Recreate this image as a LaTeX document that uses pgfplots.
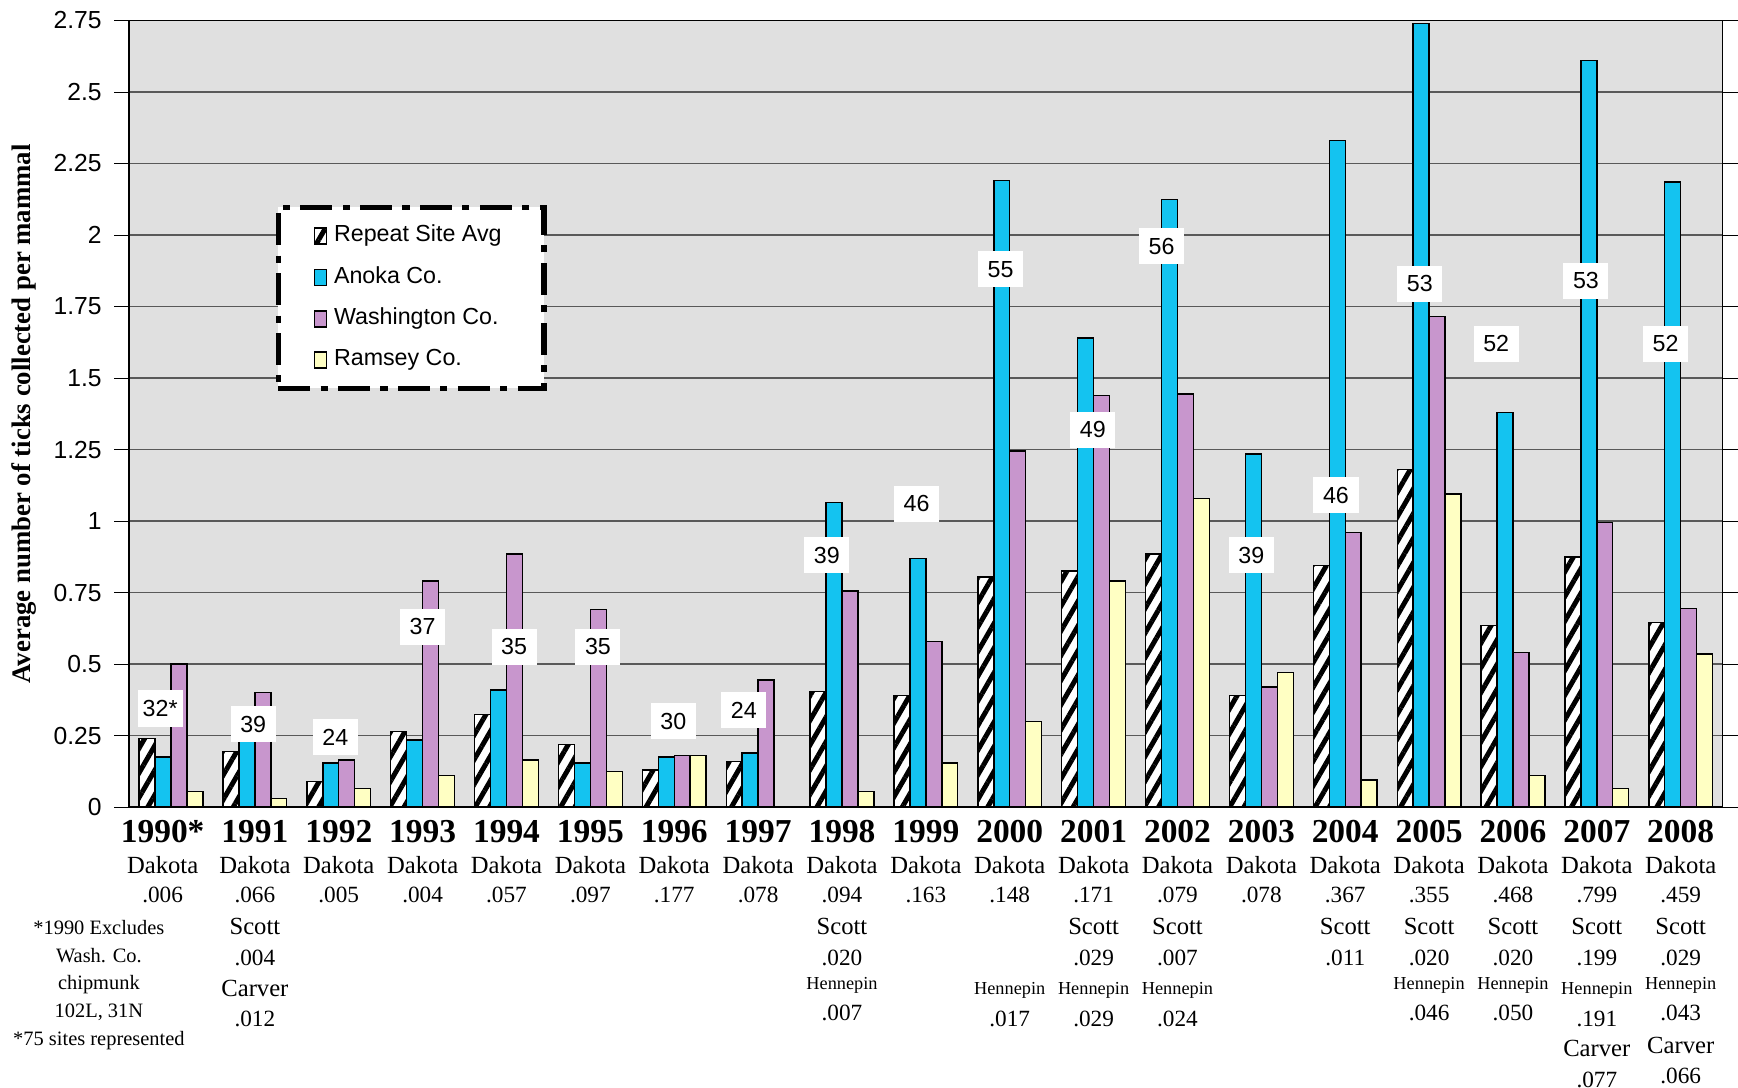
\documentclass[border=0pt]{standalone}
\usepackage{pgfplots}
\pgfplotsset{compat=1.18}
\usepackage{fontspec}
\setmainfont{Liberation Serif}
\newfontfamily\sans{Liberation Sans}
\usetikzlibrary{patterns.meta}
\definecolor{anoka}{RGB}{20,195,240}
\definecolor{wash}{RGB}{200,150,205}
\definecolor{ramsey}{RGB}{255,255,195}
\definecolor{bg}{RGB}{224,224,224}
\newcommand\cl[4][6.6pt]{\node[font=\fontsize{#1}{#1}\selectfont,inner sep=0pt] at (axis cs:#2,0) [yshift=-#3cm] {#4};}
\newcommand\vl[3]{\node[fill=white,font=\sans\fontsize{6.6}{7}\selectfont,minimum width=0.45cm,minimum height=0.36cm,inner sep=1pt] at (axis cs:#1,#2) {#3};}
\newcommand\yl[3]{\node[font=\bfseries\fontsize{9.5}{9.5}\selectfont,inner sep=0pt] at (axis cs:#1,0) [yshift=-0.24cm] {#2};
  \node[font=\fontsize{7}{7}\selectfont,inner sep=0pt] at (axis cs:#1,0) [yshift=-0.58cm] {Dakota};
  \node[font=\fontsize{6.6}{6.6}\selectfont,inner sep=0pt] at (axis cs:#1,0) [yshift=-0.88cm] {#3};}
\begin{document}
\begin{tikzpicture}
\begin{axis}[
  scale only axis, width=15.9cm, height=7.85cm,
  xmin=-0.5, xmax=18.5, ymin=0, ymax=2.75,
  ybar=0pt, bar width=0.19,
  axis background/.style={fill=bg},
  ytick={0,0.25,...,2.75},
  yticklabels={0,0.25,0.5,0.75,1,1.25,1.5,1.75,2,2.25,2.5,2.75},
  yticklabel style={font=\sans\fontsize{7}{7}\selectfont},
  ymajorgrids, grid style={gray!70!black,line width=0.4pt},
  xtick=\empty,
  tick align=outside, y tick style={black},
  ylabel={\bfseries Average number of ticks collected per mammal},
  ylabel style={font=\fontsize{7.6}{8}\selectfont, yshift=-2pt},
  clip=false,
  legend style={at={(0.092,0.766)},anchor=north west, draw=black, line width=1.5pt,
     dash pattern=on 9pt off 3pt on 2pt off 3pt,
     font=\sans\fontsize{6.6}{8}\selectfont, fill=white, row sep=1.5pt,
     inner xsep=10pt, inner ysep=3pt, cells={anchor=west}},
  legend image code/.code={\draw[#1,solid,line width=0.4pt] (0cm,-0.08cm) rectangle (0.12cm,0.08cm);},
]
\addplot[draw=black, fill=white, postaction={pattern={Lines[angle=60,distance=3.5pt,line width=1.4pt]}}] coordinates {
(0,0.24)(1,0.195)(2,0.09)(3,0.265)(4,0.325)(5,0.22)(6,0.13)(7,0.16)(8,0.405)(9,0.39)
(10,0.805)(11,0.825)(12,0.885)(13,0.39)(14,0.845)(15,1.18)(16,0.635)(17,0.875)(18,0.645)};
\addplot[draw=black, fill=anoka] coordinates {
(0,0.175)(1,0.26)(2,0.155)(3,0.235)(4,0.41)(5,0.155)(6,0.175)(7,0.19)(8,1.065)(9,0.87)
(10,2.19)(11,1.64)(12,2.125)(13,1.235)(14,2.33)(15,2.74)(16,1.38)(17,2.61)(18,2.185)};
\addplot[draw=black, fill=wash] coordinates {
(0,0.50)(1,0.40)(2,0.165)(3,0.79)(4,0.885)(5,0.69)(6,0.18)(7,0.445)(8,0.755)(9,0.58)
(10,1.245)(11,1.44)(12,1.445)(13,0.42)(14,0.96)(15,1.715)(16,0.54)(17,0.995)(18,0.695)};
\addplot[draw=black, fill=ramsey] coordinates {
(0,0.055)(1,0.03)(2,0.065)(3,0.11)(4,0.165)(5,0.125)(6,0.18)(7,0)(8,0.055)(9,0.155)
(10,0.30)(11,0.79)(12,1.08)(13,0.47)(14,0.095)(15,1.095)(16,0.11)(17,0.065)(18,0.535)};
\legend{Repeat Site Avg, Anoka Co., Washington Co., Ramsey Co.}
\vl{-0.13}{0.345}{32*}\vl{0.98}{0.29}{39}\vl{1.96}{0.245}{24}\vl{3.0}{0.63}{37}
\vl{4.09}{0.56}{35}\vl{5.09}{0.56}{35}\vl{5.99}{0.30}{30}\vl{6.83}{0.34}{24}
\vl{7.82}{0.88}{39}\vl{8.89}{1.06}{46}\vl{9.89}{1.88}{55}\vl{10.99}{1.32}{49}
\vl{11.81}{1.96}{56}\vl{12.88}{0.88}{39}\vl{13.89}{1.09}{46}\vl{14.89}{1.83}{53}
\vl{15.80}{1.62}{52}\vl{16.87}{1.84}{53}\vl{17.82}{1.62}{52}
\yl{-0.1}{1990*}{.006}\yl{1}{1991}{.066}\yl{2}{1992}{.005}\yl{3}{1993}{.004}\yl{4}{1994}{.057}
\yl{5}{1995}{.097}\yl{6}{1996}{.177}\yl{7}{1997}{.078}\yl{8}{1998}{.094}\yl{9}{1999}{.163}
\yl{10}{2000}{.148}\yl{11}{2001}{.171}\yl{12}{2002}{.079}\yl{13}{2003}{.078}\yl{14}{2004}{.367}
\yl{15}{2005}{.355}\yl{16}{2006}{.468}\yl{17}{2007}{.799}\yl{18}{2008}{.459}
\cl[5.8pt]{-0.86}{1.2}{*1990 Excludes}\cl[5.8pt]{-0.86}{1.48}{Wash. Co.}\cl[5.8pt]{-0.86}{1.77}{chipmunk}
\cl[5.8pt]{-0.86}{2.05}{102L, 31N}\cl[5.8pt]{-0.86}{2.33}{*75 sites represented}
\cl[7pt]{1}{1.19}{Scott}\cl{1}{1.50}{.004}\cl[7pt]{1}{1.81}{Carver}\cl{1}{2.11}{.012}
\cl[7pt]{8}{1.19}{Scott}\cl{8}{1.50}{.020}
\cl[7pt]{11}{1.19}{Scott}\cl{11}{1.50}{.029}
\cl[7pt]{12}{1.19}{Scott}\cl{12}{1.50}{.007}
\cl[7pt]{14}{1.19}{Scott}\cl{14}{1.50}{.011}
\cl[7pt]{15}{1.19}{Scott}\cl{15}{1.50}{.020}
\cl[7pt]{16}{1.19}{Scott}\cl{16}{1.50}{.020}
\cl[7pt]{17}{1.19}{Scott}\cl{17}{1.50}{.199}
\cl[7pt]{18}{1.19}{Scott}\cl{18}{1.50}{.029}
\cl[5.2pt]{8}{1.78}{Hennepin}\cl{8}{2.05}{.007}
\cl[5.2pt]{10}{1.83}{Hennepin}\cl{10}{2.11}{.017}
\cl[5.2pt]{11}{1.83}{Hennepin}\cl{11}{2.11}{.029}
\cl[5.2pt]{12}{1.83}{Hennepin}\cl{12}{2.11}{.024}
\cl[5.2pt]{15}{1.78}{Hennepin}\cl{15}{2.05}{.046}
\cl[5.2pt]{16}{1.78}{Hennepin}\cl{16}{2.05}{.050}
\cl[5.2pt]{17}{1.83}{Hennepin}\cl{17}{2.11}{.191}
\cl[5.2pt]{18}{1.78}{Hennepin}\cl{18}{2.05}{.043}
\cl[7pt]{17}{2.41}{Carver}\cl{17}{2.72}{.077}
\cl[7pt]{18}{2.38}{Carver}\cl{18}{2.68}{.066}
\end{axis}
\end{tikzpicture}
\end{document}
